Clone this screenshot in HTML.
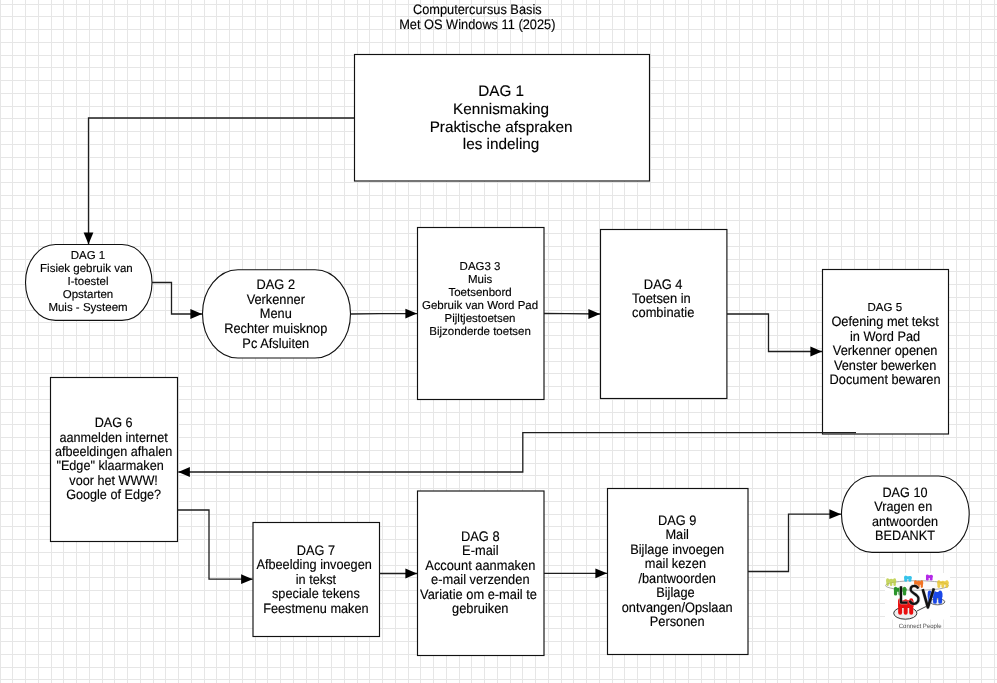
<!DOCTYPE html>
<html><head><meta charset="utf-8"><title>Computercursus Basis</title>
<style>html,body{margin:0;padding:0;background:#fff;width:997px;height:683px;overflow:hidden}svg{display:block;will-change:transform;text-rendering:geometricPrecision}</style>
</head><body>
<svg width="997" height="683" viewBox="0 0 997 683"><path d="M0.5 0V683M12.5 0V683M25.5 0V683M38.5 0V683M51.5 0V683M63.5 0V683M76.5 0V683M89.5 0V683M102.5 0V683M114.5 0V683M127.5 0V683M140.5 0V683M153.5 0V683M165.5 0V683M178.5 0V683M191.5 0V683M204.5 0V683M216.5 0V683M229.5 0V683M242.5 0V683M255.5 0V683M267.5 0V683M280.5 0V683M293.5 0V683M306.5 0V683M318.5 0V683M331.5 0V683M344.5 0V683M357.5 0V683M369.5 0V683M382.5 0V683M395.5 0V683M408.5 0V683M420.5 0V683M433.5 0V683M446.5 0V683M459.5 0V683M471.5 0V683M484.5 0V683M497.5 0V683M510.5 0V683M522.5 0V683M535.5 0V683M548.5 0V683M561.5 0V683M573.5 0V683M586.5 0V683M599.5 0V683M612.5 0V683M624.5 0V683M637.5 0V683M650.5 0V683M663.5 0V683M675.5 0V683M688.5 0V683M701.5 0V683M714.5 0V683M726.5 0V683M739.5 0V683M752.5 0V683M765.5 0V683M777.5 0V683M790.5 0V683M803.5 0V683M816.5 0V683M828.5 0V683M841.5 0V683M854.5 0V683M867.5 0V683M879.5 0V683M892.5 0V683M905.5 0V683M918.5 0V683M930.5 0V683M943.5 0V683M956.5 0V683M969.5 0V683M981.5 0V683M994.5 0V683M0 4.5H997M0 16.5H997M0 29.5H997M0 42.5H997M0 55.5H997M0 67.5H997M0 80.5H997M0 93.5H997M0 106.5H997M0 118.5H997M0 131.5H997M0 144.5H997M0 157.5H997M0 169.5H997M0 182.5H997M0 195.5H997M0 208.5H997M0 220.5H997M0 233.5H997M0 246.5H997M0 259.5H997M0 271.5H997M0 284.5H997M0 297.5H997M0 310.5H997M0 322.5H997M0 335.5H997M0 348.5H997M0 361.5H997M0 373.5H997M0 386.5H997M0 399.5H997M0 412.5H997M0 424.5H997M0 437.5H997M0 450.5H997M0 463.5H997M0 475.5H997M0 488.5H997M0 501.5H997M0 514.5H997M0 526.5H997M0 539.5H997M0 552.5H997M0 565.5H997M0 577.5H997M0 590.5H997M0 603.5H997M0 616.5H997M0 628.5H997M0 641.5H997M0 654.5H997M0 667.5H997M0 679.5H997" stroke="#e6e6e6" stroke-width="1" fill="none" shape-rendering="crispEdges"/>
<rect x="354.5" y="54.5" width="295.00" height="126.50" fill="#fff" stroke="#111" stroke-width="1.15"/>
<rect x="25.5" y="244.5" width="126.50" height="75.90" rx="30" ry="37.9" fill="#fff" stroke="#111" stroke-width="1.1"/>
<rect x="202.5" y="269.7" width="148.00" height="88.30" rx="35.5" ry="44.15" fill="#fff" stroke="#111" stroke-width="1.1"/>
<rect x="417.5" y="227.5" width="126.50" height="172.00" fill="#fff" stroke="#111" stroke-width="1.15"/>
<rect x="600.5" y="229.5" width="126.40" height="169.00" fill="#fff" stroke="#111" stroke-width="1.15"/>
<rect x="822.5" y="269.5" width="126.00" height="164.50" fill="#fff" stroke="#111" stroke-width="1.15"/>
<rect x="50.5" y="377.5" width="127.00" height="164.00" fill="#fff" stroke="#111" stroke-width="1.15"/>
<rect x="253.0" y="522.5" width="126.50" height="114.00" fill="#fff" stroke="#111" stroke-width="1.15"/>
<rect x="417.5" y="491.0" width="126.50" height="164.50" fill="#fff" stroke="#111" stroke-width="1.15"/>
<rect x="607.5" y="488.5" width="140.50" height="166.00" fill="#fff" stroke="#111" stroke-width="1.15"/>
<rect x="841.5" y="476.0" width="127.70" height="76.40" rx="30.5" ry="38.2" fill="#fff" stroke="#111" stroke-width="1.1"/>
<path d="M354 118 L88.5 118 L88.5 244.2" stroke="#1e1e1e" stroke-width="1.3" fill="none"/>
<path d="M88.50 244.20 L83.60 232.60 L93.40 232.60Z" fill="#000"/>
<path d="M152 282.5 L171.5 282.5 L171.5 314 L202 314" stroke="#1e1e1e" stroke-width="1.3" fill="none"/>
<path d="M202.00 314.00 L190.40 309.10 L190.40 318.90Z" fill="#000"/>
<path d="M350.5 314 L380 313.6 L417 313.6" stroke="#1e1e1e" stroke-width="1.3" fill="none"/>
<path d="M417.00 313.60 L405.40 308.70 L405.40 318.50Z" fill="#000"/>
<path d="M544 313.5 L566 313.6 L600 314" stroke="#1e1e1e" stroke-width="1.3" fill="none"/>
<path d="M600.00 314.00 L588.40 309.10 L588.40 318.90Z" fill="#000"/>
<path d="M727 314 L768.5 314 L768.5 351.5 L822 351.5" stroke="#1e1e1e" stroke-width="1.3" fill="none"/>
<path d="M822.00 351.50 L810.40 346.60 L810.40 356.40Z" fill="#000"/>
<path d="M856 432.6 L522.8 432.6 L522.8 472 L178.3 472" stroke="#1e1e1e" stroke-width="1.3" fill="none"/>
<path d="M178.30 472.00 L189.90 467.10 L189.90 476.90Z" fill="#000"/>
<path d="M177.5 510 L209 510 L209 579.2 L252.7 579.2" stroke="#1e1e1e" stroke-width="1.3" fill="none"/>
<path d="M252.70 579.20 L241.10 574.30 L241.10 584.10Z" fill="#000"/>
<path d="M379.5 573.5 L417 573.5" stroke="#1e1e1e" stroke-width="1.3" fill="none"/>
<path d="M417.00 573.50 L405.40 568.60 L405.40 578.40Z" fill="#000"/>
<path d="M544 573.3 L607 573.3" stroke="#1e1e1e" stroke-width="1.3" fill="none"/>
<path d="M607.00 573.30 L595.40 568.40 L595.40 578.20Z" fill="#000"/>
<path d="M748 571.5 L788.5 571.5 L788.5 514.2 L841 514.2" stroke="#1e1e1e" stroke-width="1.3" fill="none"/>
<path d="M841.00 514.20 L829.40 509.30 L829.40 519.10Z" fill="#000"/>
<text font-family="Liberation Sans, sans-serif" font-size="12.8" fill="#000" stroke="#000" stroke-width="0.14" text-anchor="middle" xml:space="preserve" x="477.3" y="14.00" transform="matrix(1 0 0 1.075 0 -1.050)">Computercursus Basis</text>
<text font-family="Liberation Sans, sans-serif" font-size="12.8" fill="#000" stroke="#000" stroke-width="0.14" text-anchor="middle" xml:space="preserve" x="477.3" y="29.00" transform="matrix(1 0 0 1.075 0 -2.175)">Met OS Windows 11 (2025)</text>
<text font-family="Liberation Sans, sans-serif" font-size="15.3" fill="#000" stroke="#000" stroke-width="0.14" text-anchor="middle" xml:space="preserve" x="501.1" y="96.40">DAG 1</text>
<text font-family="Liberation Sans, sans-serif" font-size="15.3" fill="#000" stroke="#000" stroke-width="0.14" text-anchor="middle" xml:space="preserve" x="501.1" y="114.07">Kennismaking</text>
<text font-family="Liberation Sans, sans-serif" font-size="15.3" fill="#000" stroke="#000" stroke-width="0.14" text-anchor="middle" xml:space="preserve" x="501.1" y="131.74">Praktische afspraken</text>
<text font-family="Liberation Sans, sans-serif" font-size="15.3" fill="#000" stroke="#000" stroke-width="0.14" text-anchor="middle" xml:space="preserve" x="501.1" y="149.41">les indeling</text>
<text font-family="Liberation Sans, sans-serif" font-size="11.5" fill="#000" stroke="#000" stroke-width="0.14" text-anchor="middle" xml:space="preserve" x="88.0" y="259.00">DAG 1</text>
<text font-family="Liberation Sans, sans-serif" font-size="11.5" fill="#000" stroke="#000" stroke-width="0.14" text-anchor="middle" xml:space="preserve" x="88.0" y="272.05">Fisiek gebruik van </text>
<text font-family="Liberation Sans, sans-serif" font-size="11.5" fill="#000" stroke="#000" stroke-width="0.14" text-anchor="middle" xml:space="preserve" x="88.0" y="285.10">I-toestel</text>
<text font-family="Liberation Sans, sans-serif" font-size="11.5" fill="#000" stroke="#000" stroke-width="0.14" text-anchor="middle" xml:space="preserve" x="88.0" y="298.15">Opstarten</text>
<text font-family="Liberation Sans, sans-serif" font-size="11.5" fill="#000" stroke="#000" stroke-width="0.14" text-anchor="middle" xml:space="preserve" x="88.0" y="311.20">Muis - Systeem</text>
<text font-family="Liberation Sans, sans-serif" font-size="12.8" fill="#000" stroke="#000" stroke-width="0.14" text-anchor="middle" xml:space="preserve" x="275.8" y="288.80" transform="matrix(1 0 0 1.075 0 -21.660)">DAG 2</text>
<text font-family="Liberation Sans, sans-serif" font-size="12.8" fill="#000" stroke="#000" stroke-width="0.14" text-anchor="middle" xml:space="preserve" x="275.8" y="303.50" transform="matrix(1 0 0 1.075 0 -22.762)">Verkenner</text>
<text font-family="Liberation Sans, sans-serif" font-size="12.8" fill="#000" stroke="#000" stroke-width="0.14" text-anchor="middle" xml:space="preserve" x="275.8" y="318.20" transform="matrix(1 0 0 1.075 0 -23.865)">Menu</text>
<text font-family="Liberation Sans, sans-serif" font-size="12.8" fill="#000" stroke="#000" stroke-width="0.14" text-anchor="middle" xml:space="preserve" x="275.8" y="332.90" transform="matrix(1 0 0 1.075 0 -24.967)">Rechter muisknop</text>
<text font-family="Liberation Sans, sans-serif" font-size="12.8" fill="#000" stroke="#000" stroke-width="0.14" text-anchor="middle" xml:space="preserve" x="275.8" y="347.60" transform="matrix(1 0 0 1.075 0 -26.070)">Pc Afsluiten</text>
<text font-family="Liberation Sans, sans-serif" font-size="11.5" fill="#000" stroke="#000" stroke-width="0.14" text-anchor="middle" xml:space="preserve" x="480.05" y="270.00">DAG3 3</text>
<text font-family="Liberation Sans, sans-serif" font-size="11.5" fill="#000" stroke="#000" stroke-width="0.14" text-anchor="middle" xml:space="preserve" x="480.05" y="283.07">Muis</text>
<text font-family="Liberation Sans, sans-serif" font-size="11.5" fill="#000" stroke="#000" stroke-width="0.14" text-anchor="middle" xml:space="preserve" x="480.05" y="296.14">Toetsenbord</text>
<text font-family="Liberation Sans, sans-serif" font-size="11.5" fill="#000" stroke="#000" stroke-width="0.14" text-anchor="middle" xml:space="preserve" x="480.05" y="309.21">Gebruik van Word Pad</text>
<text font-family="Liberation Sans, sans-serif" font-size="11.5" fill="#000" stroke="#000" stroke-width="0.14" text-anchor="middle" xml:space="preserve" x="480.05" y="322.28">Pijltjestoetsen</text>
<text font-family="Liberation Sans, sans-serif" font-size="11.5" fill="#000" stroke="#000" stroke-width="0.14" text-anchor="middle" xml:space="preserve" x="480.05" y="335.35">Bijzonderde toetsen</text>
<text font-family="Liberation Sans, sans-serif" font-size="12.9" fill="#000" stroke="#000" stroke-width="0.14" text-anchor="middle" xml:space="preserve" x="663.2" y="289.00" transform="matrix(1 0 0 1.075 0 -21.675)">DAG 4</text>
<text font-family="Liberation Sans, sans-serif" font-size="12.9" fill="#000" stroke="#000" stroke-width="0.14" text-anchor="middle" xml:space="preserve" x="663.2" y="303.10" transform="matrix(1 0 0 1.075 0 -22.732)">Toetsen in </text>
<text font-family="Liberation Sans, sans-serif" font-size="12.9" fill="#000" stroke="#000" stroke-width="0.14" text-anchor="middle" xml:space="preserve" x="663.2" y="317.20" transform="matrix(1 0 0 1.075 0 -23.790)">combinatie</text>
<text font-family="Liberation Sans, sans-serif" font-size="11.5" fill="#000" stroke="#000" stroke-width="0.14" text-anchor="middle" xml:space="preserve" x="884.8" y="311.30">DAG 5</text>
<text font-family="Liberation Sans, sans-serif" font-size="12.8" fill="#000" stroke="#000" stroke-width="0.14" text-anchor="middle" xml:space="preserve" x="885.1" y="326.40" transform="matrix(1 0 0 1.075 0 -24.480)">Oefening met tekst</text>
<text font-family="Liberation Sans, sans-serif" font-size="12.8" fill="#000" stroke="#000" stroke-width="0.14" text-anchor="middle" xml:space="preserve" x="885.1" y="340.90" transform="matrix(1 0 0 1.075 0 -25.567)">in Word Pad</text>
<text font-family="Liberation Sans, sans-serif" font-size="12.8" fill="#000" stroke="#000" stroke-width="0.14" text-anchor="middle" xml:space="preserve" x="885.1" y="355.40" transform="matrix(1 0 0 1.075 0 -26.655)">Verkenner openen</text>
<text font-family="Liberation Sans, sans-serif" font-size="12.8" fill="#000" stroke="#000" stroke-width="0.14" text-anchor="middle" xml:space="preserve" x="885.1" y="369.90" transform="matrix(1 0 0 1.075 0 -27.742)">Venster bewerken</text>
<text font-family="Liberation Sans, sans-serif" font-size="12.8" fill="#000" stroke="#000" stroke-width="0.14" text-anchor="middle" xml:space="preserve" x="885.1" y="384.40" transform="matrix(1 0 0 1.075 0 -28.830)">Document bewaren</text>
<text font-family="Liberation Sans, sans-serif" font-size="12.65" fill="#000" stroke="#000" stroke-width="0.14" text-anchor="middle" xml:space="preserve" x="113.6" y="427.20" transform="matrix(1 0 0 1.075 0 -32.040)">DAG 6</text>
<text font-family="Liberation Sans, sans-serif" font-size="12.65" fill="#000" stroke="#000" stroke-width="0.14" text-anchor="middle" xml:space="preserve" x="113.6" y="441.60" transform="matrix(1 0 0 1.075 0 -33.120)">aanmelden internet</text>
<text font-family="Liberation Sans, sans-serif" font-size="12.65" fill="#000" stroke="#000" stroke-width="0.14" text-anchor="middle" xml:space="preserve" x="113.6" y="456.00" transform="matrix(1 0 0 1.075 0 -34.200)">afbeeldingen afhalen</text>
<text font-family="Liberation Sans, sans-serif" font-size="12.65" fill="#000" stroke="#000" stroke-width="0.14" text-anchor="middle" xml:space="preserve" x="113.6" y="470.40" transform="matrix(1 0 0 1.075 0 -35.280)">&quot;Edge&quot; klaarmaken  </text>
<text font-family="Liberation Sans, sans-serif" font-size="12.65" fill="#000" stroke="#000" stroke-width="0.14" text-anchor="middle" xml:space="preserve" x="113.6" y="484.80" transform="matrix(1 0 0 1.075 0 -36.360)">voor het WWW!</text>
<text font-family="Liberation Sans, sans-serif" font-size="12.65" fill="#000" stroke="#000" stroke-width="0.14" text-anchor="middle" xml:space="preserve" x="113.6" y="499.20" transform="matrix(1 0 0 1.075 0 -37.440)">Google of Edge?</text>
<text font-family="Liberation Sans, sans-serif" font-size="12.74" fill="#000" stroke="#000" stroke-width="0.14" text-anchor="middle" xml:space="preserve" x="315.9" y="554.60" transform="matrix(1 0 0 1.075 0 -41.595)">DAG 7</text>
<text font-family="Liberation Sans, sans-serif" font-size="12.74" fill="#000" stroke="#000" stroke-width="0.14" text-anchor="middle" xml:space="preserve" x="315.9" y="569.15" transform="matrix(1 0 0 1.075 0 -42.686)">Afbeelding invoegen </text>
<text font-family="Liberation Sans, sans-serif" font-size="12.74" fill="#000" stroke="#000" stroke-width="0.14" text-anchor="middle" xml:space="preserve" x="315.9" y="583.70" transform="matrix(1 0 0 1.075 0 -43.777)">in tekst</text>
<text font-family="Liberation Sans, sans-serif" font-size="12.74" fill="#000" stroke="#000" stroke-width="0.14" text-anchor="middle" xml:space="preserve" x="315.9" y="598.25" transform="matrix(1 0 0 1.075 0 -44.869)">speciale tekens</text>
<text font-family="Liberation Sans, sans-serif" font-size="12.74" fill="#000" stroke="#000" stroke-width="0.14" text-anchor="middle" xml:space="preserve" x="315.9" y="612.80" transform="matrix(1 0 0 1.075 0 -45.960)">Feestmenu maken</text>
<text font-family="Liberation Sans, sans-serif" font-size="12.85" fill="#000" stroke="#000" stroke-width="0.14" text-anchor="middle" xml:space="preserve" x="480.3" y="540.80" transform="matrix(1 0 0 1.075 0 -40.560)">DAG 8</text>
<text font-family="Liberation Sans, sans-serif" font-size="12.85" fill="#000" stroke="#000" stroke-width="0.14" text-anchor="middle" xml:space="preserve" x="480.3" y="555.30" transform="matrix(1 0 0 1.075 0 -41.647)">E-mail</text>
<text font-family="Liberation Sans, sans-serif" font-size="12.85" fill="#000" stroke="#000" stroke-width="0.14" text-anchor="middle" xml:space="preserve" x="480.3" y="569.80" transform="matrix(1 0 0 1.075 0 -42.735)">Account aanmaken</text>
<text font-family="Liberation Sans, sans-serif" font-size="12.85" fill="#000" stroke="#000" stroke-width="0.14" text-anchor="middle" xml:space="preserve" x="480.3" y="584.30" transform="matrix(1 0 0 1.075 0 -43.822)">e-mail verzenden</text>
<text font-family="Liberation Sans, sans-serif" font-size="12.85" fill="#000" stroke="#000" stroke-width="0.14" text-anchor="middle" xml:space="preserve" x="480.3" y="598.80" transform="matrix(1 0 0 1.075 0 -44.910)">Variatie om e-mail te </text>
<text font-family="Liberation Sans, sans-serif" font-size="12.85" fill="#000" stroke="#000" stroke-width="0.14" text-anchor="middle" xml:space="preserve" x="480.3" y="613.30" transform="matrix(1 0 0 1.075 0 -45.997)">gebruiken</text>
<text font-family="Liberation Sans, sans-serif" font-size="12.8" fill="#000" stroke="#000" stroke-width="0.14" text-anchor="middle" xml:space="preserve" x="677.2" y="524.80" transform="matrix(1 0 0 1.075 0 -39.360)">DAG 9</text>
<text font-family="Liberation Sans, sans-serif" font-size="12.8" fill="#000" stroke="#000" stroke-width="0.14" text-anchor="middle" xml:space="preserve" x="677.2" y="539.30" transform="matrix(1 0 0 1.075 0 -40.447)">Mail</text>
<text font-family="Liberation Sans, sans-serif" font-size="12.8" fill="#000" stroke="#000" stroke-width="0.14" text-anchor="middle" xml:space="preserve" x="677.2" y="553.80" transform="matrix(1 0 0 1.075 0 -41.535)">Bijlage invoegen</text>
<text font-family="Liberation Sans, sans-serif" font-size="12.8" fill="#000" stroke="#000" stroke-width="0.14" text-anchor="middle" xml:space="preserve" x="677.2" y="568.30" transform="matrix(1 0 0 1.075 0 -42.622)">mail kezen </text>
<text font-family="Liberation Sans, sans-serif" font-size="12.8" fill="#000" stroke="#000" stroke-width="0.14" text-anchor="middle" xml:space="preserve" x="677.2" y="582.80" transform="matrix(1 0 0 1.075 0 -43.710)">/bantwoorden</text>
<text font-family="Liberation Sans, sans-serif" font-size="12.8" fill="#000" stroke="#000" stroke-width="0.14" text-anchor="middle" xml:space="preserve" x="677.2" y="597.30" transform="matrix(1 0 0 1.075 0 -44.797)">Bijlage </text>
<text font-family="Liberation Sans, sans-serif" font-size="12.8" fill="#000" stroke="#000" stroke-width="0.14" text-anchor="middle" xml:space="preserve" x="677.2" y="611.80" transform="matrix(1 0 0 1.075 0 -45.885)">ontvangen/Opslaan</text>
<text font-family="Liberation Sans, sans-serif" font-size="12.8" fill="#000" stroke="#000" stroke-width="0.14" text-anchor="middle" xml:space="preserve" x="677.2" y="626.30" transform="matrix(1 0 0 1.075 0 -46.972)">Personen</text>
<text font-family="Liberation Sans, sans-serif" font-size="12.67" fill="#000" stroke="#000" stroke-width="0.14" text-anchor="middle" xml:space="preserve" x="905.0" y="496.90" transform="matrix(1 0 0 1.075 0 -37.267)">DAG 10</text>
<text font-family="Liberation Sans, sans-serif" font-size="12.67" fill="#000" stroke="#000" stroke-width="0.14" text-anchor="middle" xml:space="preserve" x="905.0" y="511.30" transform="matrix(1 0 0 1.075 0 -38.347)">Vragen en </text>
<text font-family="Liberation Sans, sans-serif" font-size="12.67" fill="#000" stroke="#000" stroke-width="0.14" text-anchor="middle" xml:space="preserve" x="905.0" y="525.70" transform="matrix(1 0 0 1.075 0 -39.427)">antwoorden</text>
<text font-family="Liberation Sans, sans-serif" font-size="12.67" fill="#000" stroke="#000" stroke-width="0.14" text-anchor="middle" xml:space="preserve" x="905.0" y="540.10" transform="matrix(1 0 0 1.075 0 -40.507)">BEDANKT</text>
<g><rect x="885" y="573" width="65" height="46.5" fill="#fff"/><ellipse cx="917" cy="585.5" rx="31.5" ry="4.8" fill="#fbfbfb" stroke="#aaa" stroke-width="1"/><ellipse cx="905.3" cy="613.2" rx="11.6" ry="6" fill="#eeeeee" stroke="#333" stroke-width="1"/><ellipse cx="937.5" cy="601.8" rx="7.3" ry="3" fill="#eeeeee" stroke="#555" stroke-width="0.9"/><path d="M917 611 L929 605" stroke="#444" stroke-width="1"/><g opacity="0.8"><rect x="886.35" y="579.22" width="9.80" height="3.47" rx="1.05" fill="#b8cc3a"/><rect x="886.35" y="578.30" width="2.52" height="7.70" rx="1.26" fill="#b8cc3a"/><rect x="889.85" y="578.76" width="2.52" height="7.24" rx="1.26" fill="#b8cc3a"/><rect x="893.35" y="578.30" width="2.52" height="7.70" rx="1.26" fill="#b8cc3a"/></g><g opacity="0.9"><rect x="904.22" y="576.34" width="7.56" height="2.79" rx="1.26" fill="#22bde8"/><rect x="904.22" y="575.60" width="3.02" height="6.20" rx="1.51" fill="#22bde8"/><rect x="908.42" y="575.97" width="3.02" height="5.83" rx="1.51" fill="#22bde8"/></g><g opacity="0.9"><rect x="914.32" y="581.14" width="8.87" height="3.51" rx="0.95" fill="#f2650c"/><rect x="914.32" y="580.20" width="2.28" height="7.80" rx="1.14" fill="#f2650c"/><rect x="917.48" y="580.67" width="2.28" height="7.33" rx="1.14" fill="#f2650c"/><rect x="920.65" y="580.20" width="2.28" height="7.80" rx="1.14" fill="#f2650c"/></g><g opacity="0.95"><rect x="925.98" y="575.23" width="6.84" height="2.75" rx="1.14" fill="#b01ee6"/><rect x="925.98" y="574.50" width="2.74" height="6.10" rx="1.37" fill="#b01ee6"/><rect x="929.78" y="574.87" width="2.74" height="5.73" rx="1.37" fill="#b01ee6"/></g><g opacity="0.8"><rect x="937.40" y="581.14" width="11.20" height="3.51" rx="1.20" fill="#eac422"/><rect x="937.40" y="580.20" width="2.88" height="7.80" rx="1.44" fill="#eac422"/><rect x="941.40" y="580.67" width="2.88" height="7.33" rx="1.44" fill="#eac422"/><rect x="945.40" y="580.20" width="2.88" height="7.80" rx="1.44" fill="#eac422"/></g><g opacity="0.9"><rect x="893.95" y="587.84" width="12.60" height="3.92" rx="1.35" fill="#168a16"/><rect x="893.95" y="586.80" width="3.24" height="8.70" rx="1.62" fill="#168a16"/><rect x="898.45" y="587.32" width="3.24" height="8.18" rx="1.62" fill="#168a16"/><rect x="902.95" y="586.80" width="3.24" height="8.70" rx="1.62" fill="#168a16"/></g><g opacity="0.95"><rect x="927.82" y="592.10" width="14.65" height="5.98" rx="1.57" fill="#0f3fe6"/><rect x="927.82" y="590.50" width="3.77" height="13.30" rx="1.88" fill="#0f3fe6"/><rect x="933.06" y="591.30" width="3.77" height="12.50" rx="1.88" fill="#0f3fe6"/><rect x="938.29" y="590.50" width="3.77" height="13.30" rx="1.88" fill="#0f3fe6"/></g><g opacity="1"><rect x="898.15" y="600.19" width="15.49" height="7.47" rx="1.66" fill="#ea0e0e"/><rect x="898.15" y="598.20" width="3.98" height="16.60" rx="1.99" fill="#ea0e0e"/><rect x="903.69" y="599.20" width="3.98" height="15.60" rx="1.99" fill="#ea0e0e"/><rect x="909.22" y="598.20" width="3.98" height="16.60" rx="1.99" fill="#ea0e0e"/></g><g fill="none" stroke-linejoin="round"><g stroke="#bbb" stroke-width="3.6" opacity="0.6"><path d="M901 586.3 V602.6 H907.4"/><path d="M918.2 588.6 C917.5 586.5 915.5 585.8 914 585.9 C911.5 586 910.3 588 910.8 590.3 C911.4 593 917.6 594.2 918.4 598 C919 601.5 916.5 603.9 914 603.8 C911.6 603.7 910.3 602.4 909.8 600.6"/><path d="M922.7 589.2 L927.9 607.4 L933.9 588.4"/></g><g stroke="#111"><path d="M901 586.3 V602.6 H907.4" stroke-width="2.2"/><path d="M918.2 588.6 C917.5 586.5 915.5 585.8 914 585.9 C911.5 586 910.3 588 910.8 590.3 C911.4 593 917.6 594.2 918.4 598 C919 601.5 916.5 603.9 914 603.8 C911.6 603.7 910.3 602.4 909.8 600.6" stroke-width="2.3"/><path d="M922.7 589.2 L927.9 607.4 L933.9 588.4" stroke-width="2.6"/></g></g><text x="920.2" y="627.5" font-family="Liberation Sans, sans-serif" font-size="6.2" fill="#4a4a4a" text-anchor="middle" textLength="43" lengthAdjust="spacingAndGlyphs">Connect People</text></g></svg>
</body></html>
